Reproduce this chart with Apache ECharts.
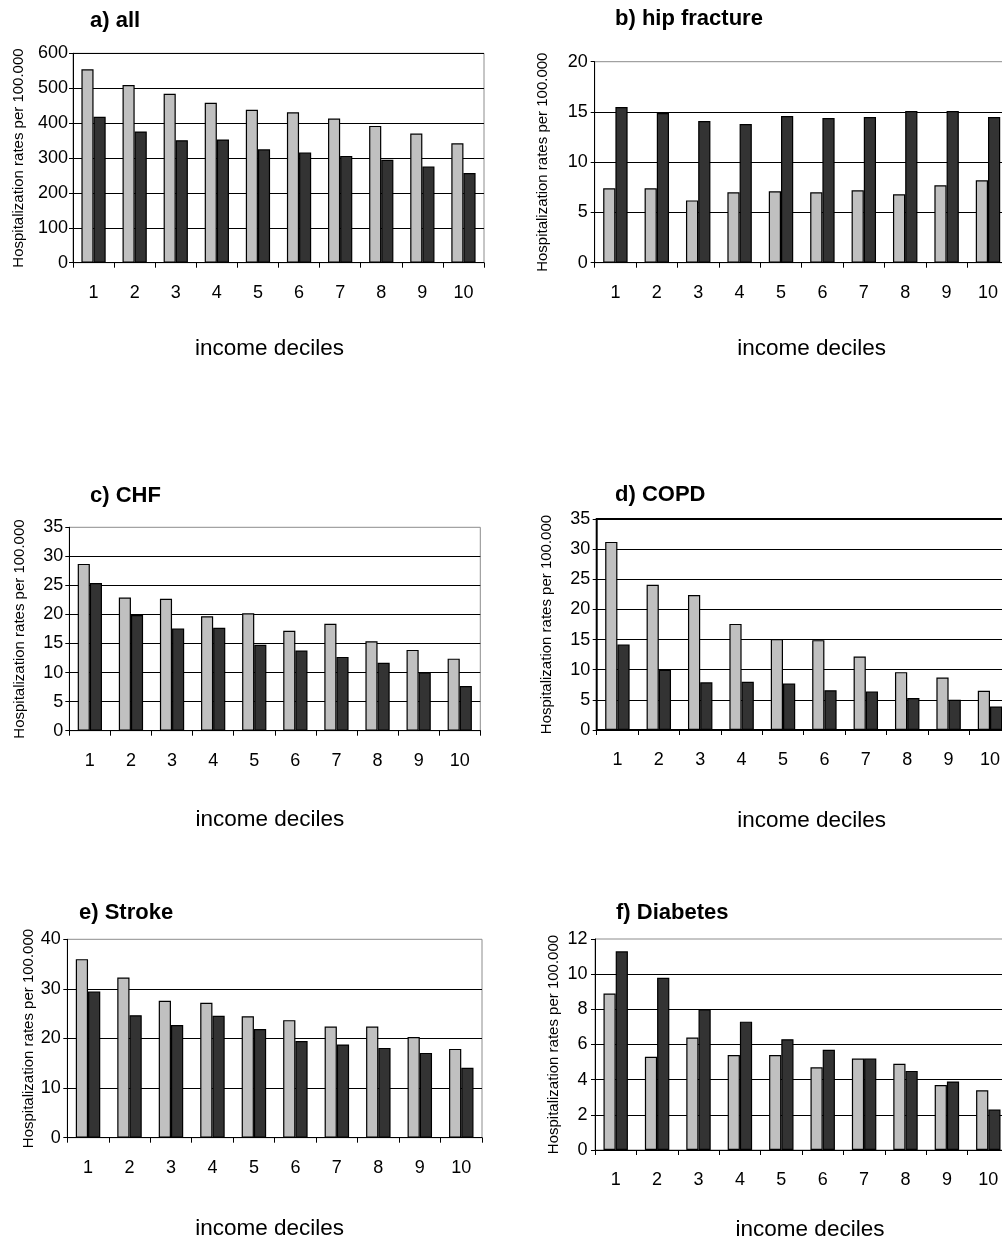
<!DOCTYPE html>
<html>
<head>
<meta charset="utf-8">
<script src="https://cdn.jsdelivr.net/npm/echarts@6/dist/echarts.min.js"></script>
<style>
html,body{margin:0;padding:0;background:#fff;overflow:hidden;}
#chart{width:1020px;height:1243px;}
</style>
</head>
<body>
<div id="chart"></div>
<script>
// ---- data ----
const deciles = ['1','2','3','4','5','6','7','8','9','10'];
const allLight   = [554, 509, 484, 458, 438, 431, 413, 392, 370, 342];
const allDark    = [418, 376, 351, 353, 325, 316, 306, 295, 276, 257];
const hipLight   = [7.4, 7.4, 6.2, 7.0, 7.1, 7.0, 7.2, 6.8, 7.7, 8.2];
const hipDark    = [15.5, 14.9, 14.1, 13.8, 14.6, 14.4, 14.5, 15.1, 15.1, 14.5];
const chfLight   = [28.7, 22.9, 22.7, 19.7, 20.2, 17.2, 18.4, 15.4, 13.9, 12.4];
const chfDark    = [25.4, 19.9, 17.6, 17.7, 14.8, 13.8, 12.7, 11.7, 10.0, 7.7];
const copdLight  = [31.2, 24.1, 22.4, 17.6, 15.1, 14.9, 12.2, 9.6, 8.7, 6.5];
const copdDark   = [14.2, 10.0, 7.9, 8.0, 7.7, 6.6, 6.4, 5.3, 5.0, 3.9];
const strokeLight= [36.0, 32.3, 27.6, 27.2, 24.5, 23.7, 22.4, 22.4, 20.3, 17.9];
const strokeDark = [29.5, 24.7, 22.7, 24.6, 21.9, 19.5, 18.8, 18.1, 17.1, 14.1];
const diabLight  = [8.9, 5.3, 6.4, 5.4, 5.4, 4.7, 5.2, 4.9, 3.7, 3.4];
const diabDark   = [11.3, 9.8, 8.0, 7.3, 6.3, 5.7, 5.2, 4.5, 3.9, 2.3];
const titles = ['a) all', 'b) hip fracture', 'c) CHF', 'd) COPD', 'e) Stroke', 'f) Diabetes'];
const yMax = [600, 20, 35, 35, 40, 12];
const yStep = [100, 5, 5, 5, 10, 2];
const xName = 'income deciles';
const yName = 'Hospitalization rates per 100.000';

// ---- layout ----
const panels = [
  {light: allLight, dark: allDark, grid:{left:73, top:53.3, width:411, height:209.4}, title:{left:90, top:10}, yGap:47, yMargin:5, xGap:75, xShift:-9, topLine:true},
  {light: hipLight, dark: hipDark, grid:{left:594.7, top:61.7, width:414, height:201}, title:{left:615, top:8}, yGap:44, yMargin:7, xGap:75, xShift:10},
  {light: chfLight, dark: chfDark, grid:{left:69.3, top:527.3, width:411, height:203.4}, title:{left:90, top:484.5}, yGap:42, yMargin:6, xGap:78, xShift:-5},
  {light: copdLight, dark: copdDark, grid:{left:596.7, top:519, width:414, height:211}, title:{left:615, top:484}, yGap:42, yMargin:6.5, xGap:79, xShift:8, thick:true},
  {light: strokeLight, dark: strokeDark, grid:{left:67.3, top:939.3, width:414.7, height:198.4}, title:{left:79, top:902}, yGap:31, yMargin:6.5, xGap:80, xShift:-5},
  {light: diabLight, dark: diabDark, grid:{left:595, top:939, width:414, height:211}, title:{left:616, top:902}, yGap:33.5, yMargin:7.5, xGap:68, xShift:8}
];

const FONT = 'Liberation Sans, Arial, Helvetica, sans-serif';
const option = {
  animation: false,
  backgroundColor: '#fff',
  title: [], grid: [], xAxis: [], yAxis: [], series: []
};

panels.forEach((p, i) => {
  option.title.push({
    text: titles[i], left: p.title.left, top: p.title.top, padding: 0,
    textStyle: {fontFamily: FONT, fontSize: 22, fontWeight: 'bold', color: '#000'}
  });
  option.grid.push(Object.assign({
    show: true, backgroundColor: 'transparent',
    borderColor: p.thick ? '#000' : '#8c8c8c', borderWidth: p.thick ? 2 : 1,
    containLabel: false
  }, p.grid));
  const pad = p.xShift >= 0 ? [0, 0, 0, 2 * p.xShift] : [0, -2 * p.xShift, 0, 0];
  option.xAxis.push({
    type: 'category', gridIndex: i, data: deciles,
    name: xName, nameLocation: 'middle', nameGap: p.xGap,
    nameTextStyle: {fontFamily: FONT, fontSize: 22.5, color: '#000', padding: pad},
    axisLine: {show: true, lineStyle: {color: '#000', width: 1}},
    axisTick: {show: true, length: 5, lineStyle: {color: '#000'}},
    axisLabel: {fontFamily: FONT, fontSize: 18, color: '#000', margin: 21},
    splitLine: {show: false}
  });
  option.yAxis.push({
    type: 'value', gridIndex: i, min: 0, max: yMax[i], interval: yStep[i],
    name: yName, nameLocation: 'middle', nameGap: p.yGap,
    nameTextStyle: {fontFamily: FONT, fontSize: 15, color: '#000'},
    axisLine: {show: true, lineStyle: {color: '#000', width: 1}},
    axisTick: {show: true, length: 4, lineStyle: {color: '#000'}},
    axisLabel: {fontFamily: FONT, fontSize: 18, color: '#000', margin: p.yMargin},
    splitLine: {show: true, showMaxLine: !!p.topLine || !!p.thick, lineStyle: {color: '#000', width: 1}}
  });
  option.series.push({
    type: 'bar', xAxisIndex: i, yAxisIndex: i, data: p.light,
    barGap: '0%', barCategoryGap: '41%',
    itemStyle: {color: '#c0c0c0', borderColor: '#000', borderWidth: 1.2}
  });
  option.series.push({
    type: 'bar', xAxisIndex: i, yAxisIndex: i, data: p.dark,
    barGap: '0%', barCategoryGap: '41%',
    itemStyle: {color: '#333333', borderColor: '#000', borderWidth: 1.2}
  });
});

const chart = echarts.init(document.getElementById('chart'), null, {renderer: 'canvas'});
chart.setOption(option);
</script>
</body>
</html>
